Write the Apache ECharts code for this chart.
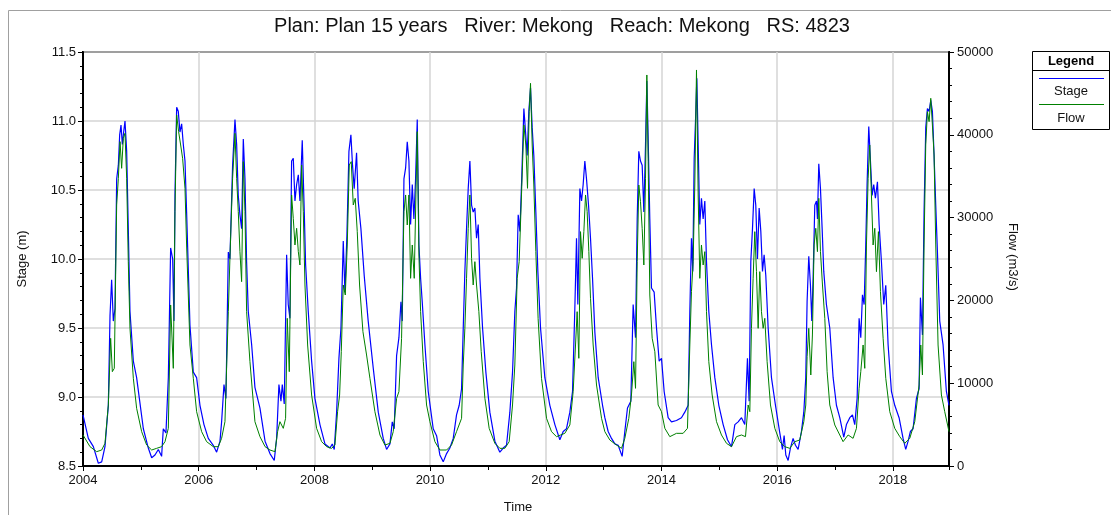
<!DOCTYPE html>
<html>
<head>
<meta charset="utf-8">
<script src="https://cdn.jsdelivr.net/npm/echarts@6/dist/echarts.min.js"></script>
<style>html,body{margin:0;padding:0;background:#fff;}#c{width:1111px;height:515px;}</style>
</head>
<body>
<div id="c"></div>
<script>
// Time is in decimal years
var xTickYears = [2004, 2006, 2008, 2010, 2012, 2014, 2016, 2018];
var stageTicks = [8.5, 9.0, 9.5, 10.0, 10.5, 11.0, 11.5];
var flowTicks = [0, 10000, 20000, 30000, 40000, 50000];

var stageData = [
[2004.000,8.87],[2004.092,8.70],[2004.179,8.64],[2004.265,8.52],[2004.323,8.53],[2004.380,8.64],[2004.438,8.94],[2004.467,9.59],[2004.495,9.85],[2004.524,9.55],[2004.553,9.64],[2004.582,10.58],[2004.611,10.68],[2004.634,10.90],[2004.657,10.97],[2004.680,10.83],[2004.703,10.92],[2004.726,11.00],[2004.755,10.78],[2004.783,10.22],[2004.812,9.62],[2004.870,9.26],[2004.927,9.14],[2004.974,8.99],
[2005.043,8.77],[2005.129,8.63],[2005.187,8.56],[2005.244,8.58],[2005.302,8.62],[2005.359,8.57],[2005.388,8.77],[2005.434,8.74],[2005.475,9.14],[2005.515,10.08],[2005.550,10.00],[2005.573,9.55],[2005.590,10.46],[2005.619,11.10],[2005.647,11.07],[2005.676,10.92],[2005.705,10.98],[2005.734,10.83],[2005.763,10.71],[2005.791,10.34],[2005.849,9.52],[2005.907,9.18],[2005.964,9.14],
[2006.022,8.94],[2006.091,8.80],[2006.166,8.70],[2006.252,8.65],[2006.310,8.60],[2006.368,8.68],[2006.396,8.82],[2006.437,9.09],[2006.471,8.99],[2006.512,10.05],[2006.540,10.00],[2006.586,10.68],[2006.627,11.01],[2006.656,10.83],[2006.684,10.46],[2006.713,10.32],[2006.742,10.22],[2006.771,10.87],[2006.800,10.58],[2006.828,9.98],[2006.857,9.62],[2006.915,9.38],[2006.972,9.07],
[2007.059,8.92],[2007.147,8.68],[2007.232,8.59],[2007.306,8.54],[2007.347,8.70],[2007.387,9.09],[2007.422,8.97],[2007.445,9.09],[2007.479,8.95],[2007.520,10.03],[2007.548,9.67],[2007.577,9.57],[2007.606,10.71],[2007.635,10.73],[2007.664,10.42],[2007.693,10.54],[2007.722,10.61],[2007.750,10.42],[2007.790,10.86],[2007.825,10.34],[2007.848,9.96],[2007.894,9.62],[2007.952,9.26],
[2008.009,8.99],[2008.096,8.80],[2008.182,8.66],[2008.269,8.63],[2008.309,8.66],[2008.343,8.62],[2008.384,8.89],[2008.424,9.28],[2008.459,9.50],[2008.499,10.13],[2008.528,9.76],[2008.562,10.17],[2008.597,10.78],[2008.631,10.90],[2008.659,10.68],[2008.688,10.51],[2008.729,10.77],[2008.757,10.42],[2008.804,10.22],[2008.861,9.88],[2008.930,9.55],
[2009.017,9.21],[2009.104,8.89],[2009.190,8.70],[2009.248,8.62],[2009.306,8.66],[2009.346,8.82],[2009.380,8.77],[2009.421,9.30],[2009.461,9.43],[2009.496,9.69],[2009.519,9.55],[2009.548,10.58],[2009.577,10.66],[2009.605,10.85],[2009.634,10.71],[2009.663,10.25],[2009.692,10.54],[2009.720,10.29],[2009.749,10.58],[2009.778,11.01],[2009.807,10.10],[2009.836,9.86],[2009.864,9.69],[2009.910,9.38],[2009.968,9.04],
[2010.054,8.77],[2010.112,8.72],[2010.169,8.58],[2010.227,8.53],[2010.285,8.59],[2010.342,8.63],[2010.400,8.70],[2010.457,8.87],[2010.503,8.94],[2010.544,9.06],[2010.573,9.50],[2010.601,9.91],[2010.630,10.22],[2010.659,10.51],[2010.688,10.71],[2010.717,10.39],[2010.745,10.34],[2010.774,10.37],[2010.803,10.15],[2010.832,10.25],[2010.861,9.86],[2010.907,9.50],[2010.964,9.18],
[2011.033,8.89],[2011.120,8.68],[2011.206,8.60],[2011.264,8.63],[2011.321,8.65],[2011.379,8.89],[2011.425,9.18],[2011.465,9.62],[2011.494,9.79],[2011.523,10.32],[2011.552,10.20],[2011.586,10.61],[2011.621,11.09],[2011.650,10.92],[2011.678,10.75],[2011.707,11.07],[2011.736,11.24],[2011.765,10.95],[2011.793,10.75],[2011.828,10.34],[2011.863,9.91],[2011.909,9.50],[2011.984,9.14],
[2012.070,8.94],[2012.157,8.80],[2012.243,8.69],[2012.301,8.75],[2012.358,8.77],[2012.416,8.89],[2012.462,9.04],[2012.502,9.64],[2012.531,10.15],[2012.554,9.67],[2012.589,10.51],[2012.618,10.42],[2012.646,10.54],[2012.675,10.71],[2012.704,10.58],[2012.739,10.39],[2012.773,10.15],[2012.808,9.86],[2012.848,9.47],[2012.906,9.14],[2012.981,8.94],
[2013.021,8.85],[2013.078,8.75],[2013.136,8.70],[2013.194,8.66],[2013.251,8.65],[2013.320,8.57],[2013.366,8.75],[2013.412,8.92],[2013.470,8.97],[2013.510,9.67],[2013.551,9.43],[2013.580,10.29],[2013.608,10.78],[2013.637,10.71],[2013.666,10.68],[2013.695,10.34],[2013.724,10.83],[2013.747,11.29],[2013.770,10.87],[2013.798,10.29],[2013.827,9.79],[2013.873,9.76],[2013.914,9.50],[2013.960,9.26],
[2014.000,9.28],[2014.046,9.04],[2014.115,8.85],[2014.173,8.82],[2014.259,8.83],[2014.345,8.85],[2014.403,8.89],[2014.461,8.94],[2014.490,9.62],[2014.518,10.15],[2014.541,9.91],[2014.565,10.73],[2014.588,11.00],[2014.611,11.31],[2014.634,10.83],[2014.662,10.25],[2014.691,10.44],[2014.720,10.29],[2014.749,10.42],[2014.778,9.98],[2014.818,9.62],[2014.864,9.38],[2014.922,9.14],[2014.991,8.94],
[2015.066,8.80],[2015.141,8.69],[2015.210,8.64],[2015.268,8.80],[2015.325,8.82],[2015.383,8.85],[2015.440,8.80],[2015.486,9.28],[2015.515,8.97],[2015.544,9.98],[2015.573,10.22],[2015.602,10.51],[2015.630,10.39],[2015.659,10.00],[2015.688,10.37],[2015.717,10.20],[2015.746,9.91],[2015.774,10.03],[2015.803,9.88],[2015.844,9.50],[2015.901,9.14],[2015.970,8.94],
[2016.045,8.74],[2016.091,8.62],[2016.120,8.72],[2016.149,8.58],[2016.189,8.54],[2016.229,8.63],[2016.275,8.70],[2016.316,8.65],[2016.362,8.62],[2016.419,8.75],[2016.460,8.89],[2016.494,9.14],[2016.517,9.69],[2016.546,10.02],[2016.575,9.81],[2016.598,9.55],[2016.621,9.86],[2016.650,10.39],[2016.679,10.42],[2016.696,10.29],[2016.719,10.69],[2016.748,10.51],[2016.777,10.22],[2016.805,9.91],[2016.851,9.67],[2016.909,9.50],[2016.967,9.14],
[2017.024,8.94],[2017.082,8.85],[2017.151,8.71],[2017.197,8.80],[2017.255,8.85],[2017.301,8.87],[2017.341,8.80],[2017.382,8.99],[2017.416,9.57],[2017.445,9.43],[2017.474,9.74],[2017.503,9.67],[2017.531,10.10],[2017.554,10.54],[2017.583,10.96],[2017.612,10.71],[2017.641,10.46],[2017.669,10.54],[2017.698,10.44],[2017.733,10.56],[2017.762,10.25],[2017.802,9.98],[2017.842,9.67],[2017.877,9.81],[2017.917,9.38],[2017.975,9.04],
[2018.032,8.94],[2018.107,8.85],[2018.176,8.70],[2018.222,8.62],[2018.263,8.68],[2018.303,8.75],[2018.349,8.77],[2018.407,8.99],[2018.453,9.06],[2018.476,9.72],[2018.511,9.45],[2018.539,10.34],[2018.568,10.95],[2018.597,11.09],[2018.626,11.07],[2018.655,11.15],[2018.683,11.07],[2018.712,10.75],[2018.741,10.39],[2018.770,10.05],[2018.810,9.55],[2018.867,9.38],[2018.925,9.04],[2018.970,8.94]
];

var flowData = [
[2004.000,3744],[2004.121,2335],[2004.236,1731],[2004.323,1932],[2004.380,2738],[2004.438,7368],[2004.478,15420],[2004.507,11394],[2004.541,11796],[2004.582,31523],[2004.611,34744],[2004.640,39173],[2004.668,35952],[2004.697,39575],[2004.726,40179],[2004.755,34744],[2004.783,24679],[2004.812,16627],[2004.870,10588],[2004.927,6965],
[2005.014,4147],[2005.100,2536],[2005.187,1932],[2005.273,2134],[2005.359,2335],[2005.417,2939],[2005.475,4549],[2005.515,19446],[2005.561,11796],[2005.590,30718],[2005.619,42394],[2005.653,40381],[2005.688,38770],[2005.722,37160],[2005.763,33537],[2005.791,26692],[2005.849,14614],[2005.907,10588],[2005.964,6562],
[2006.051,4147],[2006.137,2939],[2006.252,2335],[2006.339,2335],[2006.396,3341],[2006.454,5355],[2006.512,18640],[2006.540,25082],[2006.586,34744],[2006.627,40179],[2006.656,34744],[2006.684,30718],[2006.713,25887],[2006.742,22264],[2006.771,36757],[2006.800,30718],[2006.828,18640],[2006.886,12601],[2006.972,5355],
[2007.059,3543],[2007.147,2335],[2007.232,1932],[2007.318,1731],[2007.364,4147],[2007.404,5355],[2007.462,4549],[2007.502,5757],[2007.531,17835],[2007.566,11394],[2007.606,32732],[2007.635,29913],[2007.664,26692],[2007.693,28705],[2007.722,25887],[2007.750,24277],[2007.779,36355],[2007.808,30718],[2007.837,21861],[2007.883,14614],[2007.952,8575],
[2008.038,4549],[2008.125,2939],[2008.211,2335],[2008.298,2134],[2008.355,2536],[2008.401,6562],[2008.436,8575],[2008.465,13809],[2008.499,21861],[2008.534,20653],[2008.568,26692],[2008.603,36355],[2008.637,36757],[2008.672,31523],[2008.706,32329],[2008.741,28303],[2008.781,21861],[2008.839,16225],[2008.902,13407],[2008.960,10588],
[2009.046,6562],[2009.133,3744],[2009.219,2536],[2009.306,2738],[2009.363,4147],[2009.421,8173],[2009.461,8978],[2009.507,15420],[2009.548,30718],[2009.577,32732],[2009.605,29108],[2009.634,32732],[2009.663,22666],[2009.692,26692],[2009.726,22666],[2009.755,32732],[2009.778,40381],[2009.807,25484],[2009.836,18640],[2009.882,12601],[2009.939,7368],
[2009.997,5355],[2010.083,2939],[2010.169,1932],[2010.285,1932],[2010.371,2536],[2010.457,4147],[2010.544,5757],[2010.573,12199],[2010.601,16627],[2010.630,22666],[2010.659,28705],[2010.688,32732],[2010.717,25082],[2010.745,21861],[2010.774,24679],[2010.803,21861],[2010.843,18640],[2010.884,13809],[2010.947,8173],
[2011.021,4549],[2011.120,2738],[2011.206,2134],[2011.292,2134],[2011.367,2939],[2011.425,7368],[2011.465,12199],[2011.505,22666],[2011.540,24679],[2011.580,32732],[2011.621,41186],[2011.655,38770],[2011.684,33537],[2011.713,42796],[2011.736,46218],[2011.765,38770],[2011.793,33939],[2011.828,25887],[2011.867,17835],[2011.926,10588],
[2012.013,5757],[2012.099,4147],[2012.186,3543],[2012.255,3744],[2012.329,3945],[2012.416,4952],[2012.473,8978],[2012.514,14614],[2012.542,18640],[2012.571,13004],[2012.600,28303],[2012.629,25082],[2012.658,28303],[2012.687,32732],[2012.715,30718],[2012.744,25887],[2012.773,20251],[2012.819,14614],[2012.877,9783],[2012.964,5757],
[2013.021,4147],[2013.107,3140],[2013.222,2536],[2013.309,2134],[2013.366,3341],[2013.435,5757],[2013.481,8575],[2013.522,12601],[2013.551,9380],[2013.580,24679],[2013.608,33939],[2013.637,31926],[2013.666,28705],[2013.695,24277],[2013.724,34744],[2013.747,47225],[2013.770,36757],[2013.798,20653],[2013.839,15420],[2013.885,13809],[2013.942,7368],
[2014.000,6562],[2014.058,4549],[2014.144,3543],[2014.259,3945],[2014.374,3945],[2014.449,4549],[2014.490,14614],[2014.518,21056],[2014.547,24679],[2014.576,33939],[2014.605,47829],[2014.634,32732],[2014.662,22666],[2014.691,26692],[2014.720,24277],[2014.749,25887],[2014.778,18640],[2014.818,12601],[2014.876,8575],[2014.951,5355],
[2015.037,3744],[2015.124,2738],[2015.210,2335],[2015.296,3543],[2015.383,3744],[2015.452,3543],[2015.498,7368],[2015.527,6562],[2015.555,16627],[2015.584,22666],[2015.613,28303],[2015.642,23472],[2015.671,16627],[2015.699,23472],[2015.728,18640],[2015.757,16627],[2015.786,17835],[2015.826,12601],[2015.884,7368],[2015.959,4549],
[2016.045,2939],[2016.131,2335],[2016.218,2134],[2016.304,2939],[2016.390,3140],[2016.460,5355],[2016.494,7368],[2016.517,13205],[2016.546,16627],[2016.581,10991],[2016.609,15822],[2016.638,26692],[2016.667,28705],[2016.696,25887],[2016.719,32329],[2016.748,25887],[2016.783,21861],[2016.823,17835],[2016.863,11394],[2016.909,7368],[2016.996,4952],
[2017.082,3744],[2017.139,2939],[2017.226,3744],[2017.312,3341],[2017.370,4549],[2017.416,9380],[2017.445,11394],[2017.485,14614],[2017.514,11796],[2017.543,26692],[2017.572,34744],[2017.600,38770],[2017.629,32732],[2017.658,26692],[2017.687,28705],[2017.716,23472],[2017.750,28303],[2017.785,21056],[2017.831,15420],[2017.877,10588],[2017.946,6562],
[2018.032,4549],[2018.119,3543],[2018.205,2738],[2018.292,3341],[2018.378,5355],[2018.453,9783],[2018.482,14614],[2018.511,10991],[2018.539,26692],[2018.568,38770],[2018.597,42796],[2018.626,41588],[2018.655,44407],[2018.683,41186],[2018.712,37562],[2018.741,26692],[2018.781,14614],[2018.839,8575],[2018.896,6562],[2018.970,4147]
];

var FONT = '"Liberation Sans", Arial, sans-serif';
var chart = echarts.init(document.getElementById('c'), null, {renderer: 'canvas'});
var X_MIN = 2004, X_MAX = 2018.97;

chart.setOption({
  animation: false,
  backgroundColor: '#ffffff',
  textStyle: {fontFamily: FONT},
  grid: {left: 83, right: 162, top: 52, bottom: 49, show: true, borderColor: '#000', borderWidth: 2, backgroundColor: 'transparent'},
  xAxis: [{
    type: 'value', min: X_MIN, max: X_MAX, interval: 2,
    axisLine: {show: true, lineStyle: {color: '#000', width: 2}},
    axisTick: {show: true, length: 5, lineStyle: {color: '#000'}},
    axisLabel: {show: true, margin: 8, color: '#111', fontSize: 13, fontFamily: FONT, showMaxLabel: false,
      formatter: function (v) { return xTickYears.indexOf(v) >= 0 ? String(v) : ''; }},
    splitLine: {show: true, lineStyle: {color: '#d4d4d4', width: 1.5}}
  }, {
    type: 'value', min: X_MIN, max: X_MAX, interval: 1, position: 'bottom',
    axisLine: {show: false}, axisLabel: {show: false}, splitLine: {show: false},
    axisTick: {show: true, length: 4, lineStyle: {color: '#000'}}
  }],
  yAxis: [{
    type: 'value', min: 8.5, max: 11.5, interval: 0.5, position: 'left',
    axisLine: {show: true, lineStyle: {color: '#000', width: 2}},
    axisTick: {show: true, length: 5, lineStyle: {color: '#000'}},
    minorTick: {show: true, splitNumber: 5, length: 3, lineStyle: {color: '#000'}},
    axisLabel: {margin: 7, color: '#111', fontSize: 13, fontFamily: FONT,
      formatter: function (v) { return v.toFixed(1); }},
    splitLine: {show: true, lineStyle: {color: '#d4d4d4', width: 1.5}}
  }, {
    type: 'value', min: 0, max: 50000, interval: 10000, position: 'right',
    axisLine: {show: true, lineStyle: {color: '#000', width: 2}},
    axisTick: {show: true, length: 5, lineStyle: {color: '#000'}},
    minorTick: {show: true, splitNumber: 5, length: 3, lineStyle: {color: '#000'}},
    axisLabel: {margin: 8, color: '#111', fontSize: 13, fontFamily: FONT,
      formatter: function (v) { return String(Math.round(v)); }},
    splitLine: {show: false}
  }],
  series: [{
    name: 'Stage', type: 'line', xAxisIndex: 0, yAxisIndex: 0, data: stageData,
    showSymbol: false, symbol: 'none', lineStyle: {color: '#0000ff', width: 1.2}, z: 3
  }, {
    name: 'Flow', type: 'line', xAxisIndex: 0, yAxisIndex: 1, data: flowData,
    showSymbol: false, symbol: 'none', lineStyle: {color: '#008000', width: 1}, z: 4
  }],
  graphic: [
    {type: 'rect', shape: {x: 8.5, y: 10.5, width: 1200, height: 600}, style: {fill: 'none', stroke: '#a0a0a0', lineWidth: 1}, z: -1},
    {type: 'text', x: 562, y: 26, style: {text: 'Plan: Plan 15 years   River: Mekong   Reach: Mekong   RS: 4823', font: '20px ' + FONT, fill: '#111', textAlign: 'center', textVerticalAlign: 'middle'}},
    {type: 'text', x: 22, y: 259, rotation: Math.PI / 2, style: {text: 'Stage (m)', font: '13px ' + FONT, fill: '#111', textAlign: 'center', textVerticalAlign: 'middle'}},
    {type: 'text', x: 1013, y: 257, rotation: -Math.PI / 2, style: {text: 'Flow (m3/s)', font: '13px ' + FONT, fill: '#111', textAlign: 'center', textVerticalAlign: 'middle'}},
    {type: 'text', x: 518, y: 507, style: {text: 'Time', font: '13px ' + FONT, fill: '#111', textAlign: 'center', textVerticalAlign: 'middle'}},
    {type: 'rect', shape: {x: 1032.5, y: 51.5, width: 77, height: 78}, style: {fill: '#fff', stroke: '#000', lineWidth: 1}},
    {type: 'line', shape: {x1: 1032.5, y1: 70.5, x2: 1109.5, y2: 70.5}, style: {stroke: '#000', lineWidth: 1}},
    {type: 'text', x: 1071, y: 61, style: {text: 'Legend', font: 'bold 13px ' + FONT, fill: '#000', textAlign: 'center', textVerticalAlign: 'middle'}},
    {type: 'line', shape: {x1: 1039, y1: 78.5, x2: 1104, y2: 78.5}, style: {stroke: '#0000ff', lineWidth: 1}},
    {type: 'text', x: 1071, y: 91, style: {text: 'Stage', font: '13px ' + FONT, fill: '#111', textAlign: 'center', textVerticalAlign: 'middle'}},
    {type: 'line', shape: {x1: 1039, y1: 104.5, x2: 1104, y2: 104.5}, style: {stroke: '#008000', lineWidth: 1}},
    {type: 'text', x: 1071, y: 118, style: {text: 'Flow', font: '13px ' + FONT, fill: '#111', textAlign: 'center', textVerticalAlign: 'middle'}}
  ]
});
</script>
</body>
</html>
